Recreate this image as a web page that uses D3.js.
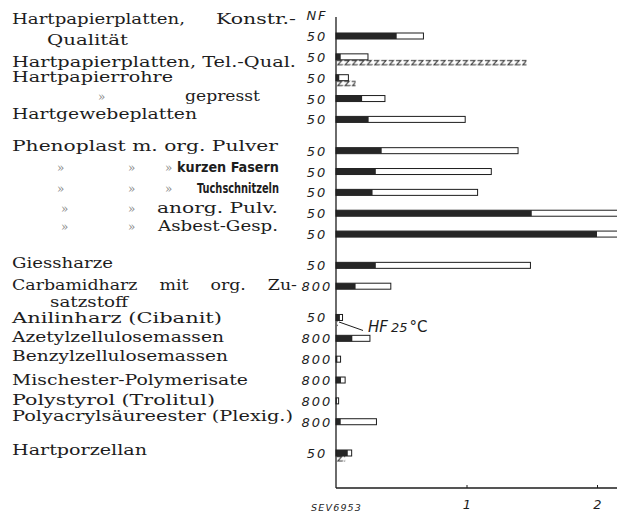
<!DOCTYPE html>
<html>
<head>
<meta charset="utf-8">
<script src="https://cdn.jsdelivr.net/npm/d3@7"></script>
<style>
  body { margin: 0; background: #fff; }
  svg { display: block; }
  .lab { font-family: "DejaVu Serif", serif; font-size: 14px; fill: #1d1d1d; }
  .ditto { font-family: "DejaVu Serif", serif; font-size: 12px; fill: #8a8a8a; }
  .cond { font-family: "Liberation Sans Narrow", "DejaVu Sans Condensed", sans-serif; font-weight: bold; font-size: 14px; fill: #1d1d1d; }
  .num { font-family: "DejaVu Sans", sans-serif; font-style: italic; font-size: 13px; letter-spacing: 2px; fill: #1d1d1d; }
</style>
</head>
<body>
<div id="chart"></div>
<script>
// data
const materials = [
  'Hartpapierplatten, Konstr.-Qualität', 'Hartpapierplatten, Tel.-Qual.', 'Hartpapierrohre',
  'Hartpapierrohre gepresst', 'Hartgewebeplatten', 'Phenoplast m. org. Pulver',
  'Phenoplast m. kurzen Fasern', 'Phenoplast m. Tuchschnitzeln', 'Phenoplast m. anorg. Pulv.',
  'Phenoplast m. Asbest-Gesp.', 'Giessharze', 'Carbamidharz mit org. Zusatzstoff',
  'Anilinharz (Cibanit)', 'Azetylzellulosemassen', 'Benzylzellulosemassen',
  'Mischester-Polymerisate', 'Polystyrol (Trolitul)', 'Polyacrylsäureester (Plexig.)', 'Hartporzellan'
];
const freq = [50, 50, 50, 50, 50, 50, 50, 50, 50, 50, 50, 800, 50, 800, 800, 800, 800, 800, 50];
const darkPart = [0.465, 0.036, 0.025, 0.2, 0.25, 0.35, 0.305, 0.28, 1.5, 2.0, 0.305, 0.15, 0.03, 0.125, 0.01, 0.038, 0.005, 0.036, 0.09];
const totalLen = [0.67, 0.245, 0.095, 0.375, 0.99, 1.395, 1.19, 1.085, 2.3, 2.4, 1.49, 0.42, 0.05, 0.26, 0.035, 0.07, 0.02, 0.31, 0.12];
const hfValue = [null, 1.46, 0.15, null, null, null, null, null, null, null, null, null, 0.015, null, null, null, null, null, 0.07];
const xTicks = [1, 2];

// layout: row slots (gaps between groups), label pieces with start/end x
const rowSlot = [0, 1, 2, 3, 4, 5.5, 6.5, 7.5, 8.5, 9.5, 11, 12, 13.5, 14.5, 15.5, 16.5, 17.5, 18.5, 20];
const q = '\u00bb';
const labelParts = [
  [{ t: 'Hartpapierplatten,', x: 12, to: 185, dy: -12 }, { t: 'Konstr.-', x: 216, to: 296, dy: -12 }, { t: 'Qualität', x: 47, to: 128, dy: 9 }],
  [{ t: 'Hartpapierplatten, Tel.-Qual.', x: 12, to: 296, dy: 10 }],
  [{ t: 'Hartpapierrohre', x: 12, to: 173, dy: 4 }],
  [{ t: q, x: 98, dy: 2.5, c: 'ditto' }, { t: 'gepresst', x: 185, to: 260, dy: 2.5 }],
  [{ t: 'Hartgewebeplatten', x: 12, to: 197, dy: 0 }],
  [{ t: 'Phenoplast m. org. Pulver', x: 12, to: 278, dy: 0 }],
  [{ t: q, x: 57, dy: 0, c: 'ditto' }, { t: q, x: 128, dy: 0, c: 'ditto' }, { t: q, x: 165, dy: 0, c: 'ditto' }, { t: 'kurzen Fasern', x: 177, to: 279, dy: 0, c: 'cond' }],
  [{ t: q, x: 57, dy: 1, c: 'ditto' }, { t: q, x: 128, dy: 1, c: 'ditto' }, { t: q, x: 165, dy: 1, c: 'ditto' }, { t: 'Tuchschnitzeln', x: 197, to: 279, dy: 1, c: 'cond' }],
  [{ t: q, x: 61, dy: 0, c: 'ditto' }, { t: q, x: 128, dy: 0, c: 'ditto' }, { t: 'anorg. Pulv.', x: 157, to: 278, dy: 0 }],
  [{ t: q, x: 61, dy: -3, c: 'ditto' }, { t: q, x: 128, dy: -3, c: 'ditto' }, { t: 'Asbest-Gesp.', x: 158, to: 278, dy: -3 }],
  [{ t: 'Giessharze', x: 12, to: 113, dy: 2.5 }],
  [{ just: ['Carbamidharz', 'mit', 'org.', 'Zu-'], x: 12, to: 297, dy: 4 }, { t: 'satzstoff', x: 50, to: 128, dy: 21 }],
  [{ t: 'Anilinharz (Cibanit)', x: 12, to: 222, dy: 5.5 }],
  [{ t: 'Azetylzellulosemassen', x: 12, to: 224, dy: 3.4 }],
  [{ t: 'Benzylzellulosemassen', x: 12, to: 228, dy: 1.5 }],
  [{ t: 'Mischester-Polymerisate', x: 12, to: 248, dy: 5 }],
  [{ t: 'Polystyrol (Trolitul)', x: 12, to: 215, dy: 4 }],
  [{ t: 'Polyacrylsäureester (Plexig.)', x: 12, to: 293, dy: -1 }],
  [{ t: 'Hartporzellan', x: 12, to: 147, dy: 2 }]
];
const stretch = 1.24; // the original face is wider than DejaVu Serif

const width = 617;
const height = 517;
const ink = '#1d1d1d';

const rows = materials.map((m, i) => ({
  name: m, f: freq[i], dark: darkPart[i], total: totalLen[i], hf: hfValue[i], slot: rowSlot[i], parts: labelParts[i]
}));

const x = d3.scaleLinear().domain([0, 2]).range([336, 597]);
const y = d3.scaleLinear().domain([0, 20]).range([36, 453]);
const barH = 6;
const hfH = 5.6;
const axisY = 488;

const svg = d3.select('#chart')
  .append('svg')
  .attr('width', width)
  .attr('height', height)
  .attr('viewBox', [0, 0, width, height]);

svg.append('rect').attr('width', width).attr('height', height).attr('fill', '#fff');

// one zigzag pattern per hatched bar, so the tile starts at the bar top
const defs = svg.append('defs');
rows.filter((d) => d.hf != null).forEach((d, k) => {
  d.pid = 'zz' + k;
  const p = defs.append('pattern')
    .attr('id', d.pid)
    .attr('patternUnits', 'userSpaceOnUse')
    .attr('x', x(0))
    .attr('y', y(d.slot) + barH / 2)
    .attr('width', 7.4)
    .attr('height', hfH);
  p.append('path')
    .attr('d', 'M0.8,0.7 H5.6 L1.8,4.9 H7.2')
    .attr('fill', 'none')
    .attr('stroke', ink)
    .attr('stroke-width', 1);
});

// labels, stretched to the width they take in the original
const lab = svg.append('g');
rows.forEach((d) => {
  d.parts.forEach((p) => {
    const yy = y(d.slot) + p.dy;
    if (p.just) {
      // justified line: words stretched alike, gaps spread evenly
      const words = p.just.map((w) => {
        const t = lab.append('text').attr('class', 'lab').attr('y', yy).text(w);
        const wd = t.node().getComputedTextLength() * stretch;
        t.attr('textLength', wd).attr('lengthAdjust', 'spacingAndGlyphs');
        return { t, wd };
      });
      const gap = (p.to - p.x - d3.sum(words, (w) => w.wd)) / (words.length - 1);
      let cx = p.x;
      words.forEach((w) => { w.t.attr('x', cx); cx += w.wd + gap; });
      return;
    }
    const t = lab.append('text')
      .attr('class', p.c || 'lab')
      .attr('x', p.x)
      .attr('y', yy)
      .text(p.t);
    if (p.to) t.attr('textLength', p.to - p.x).attr('lengthAdjust', 'spacingAndGlyphs');
  });
});

// frequency column
svg.append('text')
  .attr('class', 'num')
  .attr('x', 317)
  .attr('y', 20)
  .attr('text-anchor', 'middle')
  .text('NF');

svg.append('g')
  .selectAll('text')
  .data(rows)
  .join('text')
  .attr('class', 'num')
  .attr('x', 317)
  .attr('y', (d) => y(d.slot) + 5)
  .attr('text-anchor', 'middle')
  .text((d) => d.f);

// bars
const bars = svg.append('g');
bars.selectAll('rect.total')
  .data(rows)
  .join('rect')
  .attr('class', 'total')
  .attr('x', x(0))
  .attr('y', (d) => y(d.slot) - barH / 2)
  .attr('width', (d) => x(d.total) - x(0))
  .attr('height', barH)
  .attr('fill', '#fff')
  .attr('stroke', ink)
  .attr('stroke-width', 1);

bars.selectAll('rect.dark')
  .data(rows)
  .join('rect')
  .attr('class', 'dark')
  .attr('x', x(0))
  .attr('y', (d) => y(d.slot) - barH / 2)
  .attr('width', (d) => x(d.dark) - x(0))
  .attr('height', barH)
  .attr('fill', '#262626');

bars.selectAll('rect.hf')
  .data(rows.filter((d) => d.hf != null))
  .join('rect')
  .attr('class', 'hf')
  .attr('x', x(0))
  .attr('y', (d) => y(d.slot) + barH / 2)
  .attr('width', (d) => x(d.hf) - x(0))
  .attr('height', hfH)
  .attr('fill', (d) => `url(#${d.pid})`);

// HF annotation, pointing at the Anilinharz hatch
const ani = rows[12];
svg.append('line')
  .attr('x1', x(ani.hf) + 1)
  .attr('y1', y(ani.slot) + barH / 2 + 1.5)
  .attr('x2', x(0) + 27)
  .attr('y2', y(ani.slot) + 13)
  .attr('stroke', ink)
  .attr('stroke-width', 1);

const hf = svg.append('text')
  .attr('x', x(0) + 32)
  .attr('y', y(ani.slot) + 15)
  .attr('fill', ink)
  .attr('font-family', 'DejaVu Sans, sans-serif');
hf.append('tspan').attr('font-style', 'italic').attr('font-size', 15).text('HF');
hf.append('tspan').attr('font-style', 'italic').attr('font-size', 13).attr('dx', 3).text('25');
hf.append('tspan').attr('font-size', 15).attr('dx', 2).text('°C');

// axes
svg.append('line')
  .attr('x1', x(0)).attr('x2', x(0))
  .attr('y1', 17).attr('y2', axisY)
  .attr('stroke', ink).attr('stroke-width', 1.3);

const xAxis = svg.append('g')
  .attr('transform', `translate(0,${axisY})`)
  .call(d3.axisBottom(x).tickValues(xTicks).tickSize(-3).tickPadding(12).tickFormat(d3.format('d')));
xAxis.select('.domain').remove();
xAxis.selectAll('.tick line').attr('stroke', ink);
xAxis.selectAll('.tick text')
  .attr('font-family', 'DejaVu Sans, sans-serif')
  .attr('font-style', 'italic')
  .attr('font-size', 13)
  .attr('fill', ink);

svg.append('line')
  .attr('x1', x(0)).attr('x2', width)
  .attr('y1', axisY).attr('y2', axisY)
  .attr('stroke', ink).attr('stroke-width', 1.3);

svg.append('text')
  .attr('x', 311)
  .attr('y', 511)
  .attr('font-family', 'DejaVu Sans, sans-serif')
  .attr('font-style', 'italic')
  .attr('font-size', 9.5)
  .attr('letter-spacing', 1.2)
  .attr('fill', ink)
  .text('SEV6953');
</script>
</body>
</html>
